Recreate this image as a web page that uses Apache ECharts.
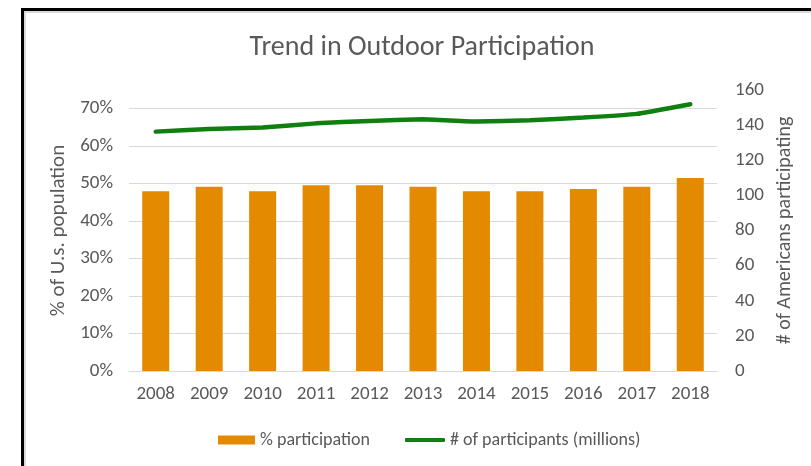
<!DOCTYPE html>
<html>
<head>
<meta charset="utf-8">
<script src="https://cdn.jsdelivr.net/npm/echarts@6/dist/echarts.min.js"></script>
<style>
  html, body { margin: 0; padding: 0; background: #fff; }
  #chart { position: absolute; left: 0; top: 0; width: 811px; height: 466px; }
  .frame { position: absolute; pointer-events: none; box-sizing: border-box; }
</style>
</head>
<body>
<div id="chart"></div>
<!-- worksheet frame around the chart object -->
<div class="frame" style="left:21px;top:8px;width:800px;height:470px;border-left:3px solid #000;border-top:3px solid #000;"></div>
<div class="frame" style="left:24px;top:11px;width:800px;height:470px;border-left:2px solid #d9d9d9;border-top:2px solid #d9d9d9;"></div>
<script>
"use strict";

// 数据
const YEARS = ["2008", "2009", "2010", "2011", "2012", "2013", "2014", "2015", "2016", "2017", "2018"];
const PCT_PARTICIPATION = [0.480, 0.492, 0.480, 0.496, 0.496, 0.492, 0.480, 0.480, 0.486, 0.492, 0.515];
const PARTICIPANTS_M = [136.3, 137.8, 138.6, 141.0, 142.4, 143.3, 142.0, 142.8, 144.3, 146.4, 151.9];

const FONT = "Carlito, 'Open Sans', sans-serif";
const TXT = "#595959";
const GRID = "#d9d9d9";
const ORANGE = "#e38a00";
const GREEN = "#0f800f";

const legendText = { fontFamily: FONT, fontSize: 18, color: TXT };

const chart = echarts.init(document.getElementById("chart"), null, { renderer: "canvas" });
chart.setOption({
  animation: false,
  textStyle: { fontFamily: FONT },
  title: {
    text: "Trend in Outdoor Participation",
    left: 417, top: 29, textAlign: "center",
    textStyle: { fontFamily: FONT, fontSize: 28, fontWeight: "normal", color: TXT }
  },
  grid: { left: 129, right: 94, top: 90, bottom: 95 },
  // two legends so the swatch and the line icon can have their own heights
  legend: [{
    left: 213, top: 426, itemWidth: 37, itemHeight: 9,
    textStyle: legendText,
    data: [{ name: "% participation", icon: "rect" }]
  }, {
    left: 400, top: 426, itemWidth: 40, itemHeight: 4,
    textStyle: legendText,
    data: [{ name: "# of participants (millions)", icon: "roundRect" }]
  }],
  xAxis: {
    type: "category", data: YEARS,
    axisLine: { lineStyle: { color: GRID, width: 1 } },
    axisTick: { show: false },
    axisLabel: { color: TXT, fontSize: 19, margin: 14 }
  },
  yAxis: [{
    type: "value", min: 0, max: 0.75, interval: 0.1,
    name: "% of U.s. population", nameLocation: "middle", nameGap: 54, nameRotate: 90,
    nameTextStyle: { color: TXT, fontSize: 21, fontFamily: FONT },
    axisLine: { show: false }, axisTick: { show: false },
    axisLabel: { color: TXT, fontSize: 19, margin: 16, showMaxLabel: false,
                 formatter: v => Math.round(v * 100) + "%" },
    splitLine: { show: true, showMaxLine: false, lineStyle: { color: GRID, width: 1 } }
  }, {
    type: "value", min: 0, max: 160, interval: 20,
    name: "# of Americans participating", nameLocation: "middle", nameGap: 51, nameRotate: 90,
    nameTextStyle: { color: TXT, fontSize: 20, fontFamily: FONT },
    axisLine: { show: false }, axisTick: { show: false },
    axisLabel: { color: TXT, fontSize: 19, margin: 18 },
    splitLine: { show: false }
  }],
  series: [{
    name: "% participation", type: "bar", yAxisIndex: 0,
    data: PCT_PARTICIPATION, barWidth: 27,
    itemStyle: { color: ORANGE }
  }, {
    name: "# of participants (millions)", type: "line", yAxisIndex: 1,
    data: PARTICIPANTS_M, symbol: "none", smooth: 0.1,
    lineStyle: { color: GREEN, width: 4.5, cap: "round" },
    itemStyle: { color: GREEN }
  }]
});
</script>
</body>
</html>
